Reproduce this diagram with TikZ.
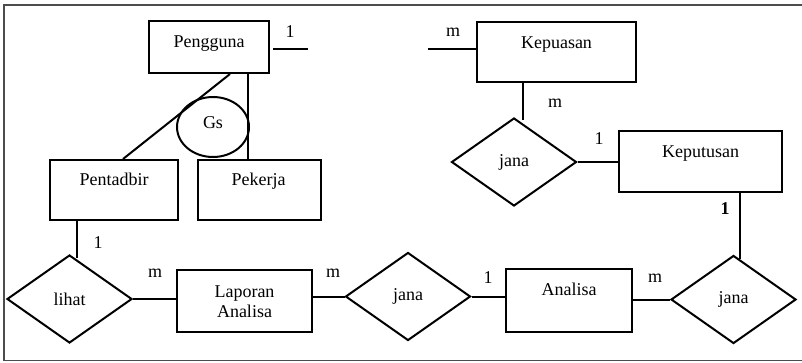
\documentclass[tikz,border=0pt]{standalone}
\usepackage{fontspec}
\setmainfont{Liberation Serif}
\usetikzlibrary{shapes.geometric,calc}
\begin{document}
\begin{tikzpicture}[x=1pt,y=-1pt,
  every node/.style={font=\fontsize{18}{20}\selectfont, inner sep=0pt},
  entity/.style={draw, line width=2pt, rectangle},
  rel/.style={draw, line width=2pt, diamond, minimum width=125pt, minimum height=88pt},
  conn/.style={line width=2pt},
  card/.style={text height=12pt, text depth=4pt},
  frame/.style={draw=black!70, line width=1.8pt}
]
\useasboundingbox (0,0) rectangle (802,362);
\draw[frame] (806,5) -- (4,5) -- (4,360.5) -- (806,360.5);

% entities
\node[entity, minimum width=120pt, minimum height=52pt,
  label={[card,yshift=4pt]center:Pengguna}] (peng) at (209,47) {};
\node[entity, minimum width=159pt, minimum height=60pt,
  label={[card,yshift=8pt]center:Kepuasan}] (kpuas) at (556.5,52) {};
\node[entity, minimum width=128pt, minimum height=60pt,
  label={[card,yshift=9pt]center:Pentadbir}] (pent) at (114,190) {};
\node[entity, minimum width=123pt, minimum height=60pt,
  label={[card,yshift=9pt,xshift=-1pt]center:Pekerja}] (pek) at (259.5,190) {};
\node[entity, minimum width=163pt, minimum height=61pt,
  label={[card,yshift=8pt]center:Keputusan}] (kput) at (700.5,161.5) {};
\node[entity, minimum width=135pt, minimum height=62pt,
  label={[align=center,yshift=-1pt]center:Laporan\\Analisa}] (lap) at (244.5,301) {};
\node[entity, minimum width=126pt, minimum height=63pt,
  label={[card,yshift=9pt]center:Analisa}] (ana) at (569,300.5) {};

% generalisation circle
\node[draw, line width=2pt, ellipse, minimum width=72pt, minimum height=60pt,
  label={[card,yshift=3pt]center:Gs}] (gs) at (213,127) {};

% relationships
\node[rel] (lihat) at (69.5,299) {lihat};
\node[rel] (jana1) at (514,162) {jana};
\node[rel] (jana2) at (408,296.5) {jana};
\node[rel] (jana3) at (733.5,299.5) {jana};

% connectors
\coordinate (p1) at (273,49);
\coordinate (p2) at (308,49);
\coordinate (k1) at (428,49);
\draw[conn] (p1) -- (p2);
\draw[conn] (k1) -- (k1 -| kpuas.west);
\draw[conn] ([xshift=21pt]peng.south) -- ([xshift=9pt]pent.north);
\draw[conn] ([xshift=39pt]peng.south) -- ([xshift=39pt]peng.south |- pek.north);
\draw[conn] ([xshift=-37pt]pent.south) -- ([xshift=-37pt,yshift=-4pt]pent.south |- lihat.north);
\draw[conn] (lihat.east) -- (lihat.east -| lap.west);
\draw[conn] (lap.east |- jana2.west) -- (jana2.west);
\draw[conn] (jana2.east) -- (jana2.east -| ana.west);
\draw[conn] (ana.east |- jana3.west) -- (jana3.west);
\draw[conn] ([xshift=39.5pt]kput.south) -- ([xshift=39.5pt,yshift=-4pt]kput.south |- jana3.north);
\draw[conn] ([xshift=-33.5pt]kpuas.south) -- ([xshift=-33.5pt,yshift=-3pt]kpuas.south |- jana1.north);
\draw[conn] (jana1.east) -- (jana1.east -| kput.west);

% cardinalities
\node[card] (c1) at (290,33) {1};
\node[card] (c2) at (453,32) {m};
\node[card] (c3) at (555,103) {m};
\node[card] (c4) at (599,140) {1};
\node[card] (c5) at (725,210) {\textbf{1}};
\node[card] (c6) at (98,244) {1};
\node[card] (c7) at (155,273) {m};
\node[card] (c8) at (333,273) {m};
\node[card] (c9) at (488,279) {1};
\node[card] (c10) at (655,278) {m};
\end{tikzpicture}
\end{document}
